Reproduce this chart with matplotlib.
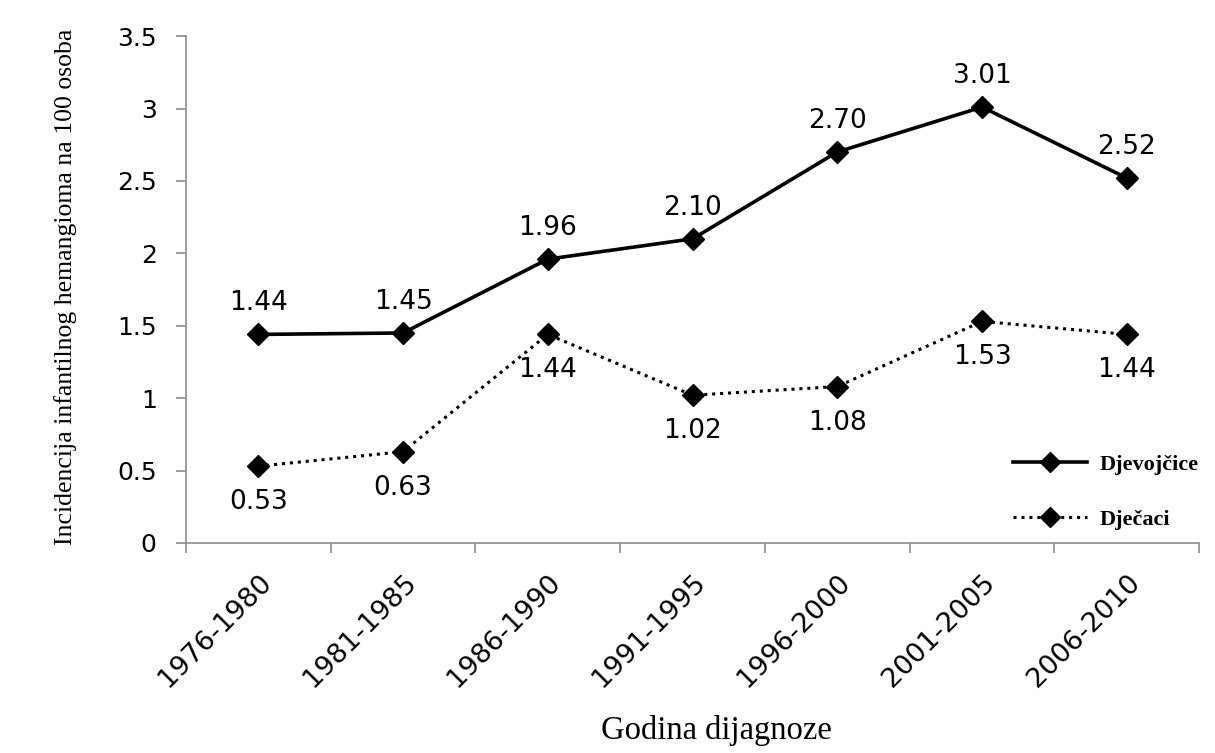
import numpy as np
import matplotlib.pyplot as plt

periods = ['1976-1980', '1981-1985', '1986-1990', '1991-1995',
           '1996-2000', '2001-2005', '2006-2010']
djevojcice = [1.44, 1.45, 1.96, 2.10, 2.70, 3.01, 2.52]
djecaci = [0.53, 0.63, 1.44, 1.02, 1.08, 1.53, 1.44]

num_font = ['DejaVu Sans']
serif = ['Liberation Serif', 'DejaVu Serif']
axis_grey = '#8c8c8c'

fig = plt.figure(figsize=(12.15, 7.53), dpi=100)
ax = fig.add_axes([0.153, 0.279, 0.834, 0.673])

x = np.arange(len(periods))
ax.plot(x, djevojcice, color='black', lw=2.6, marker='D', ms=11.5,
        label='Djevojčice')
ax.plot(x, djecaci, color='black', lw=2.2, ls=(0, (1, 1.6)), marker='D',
        ms=11.5, label='Dječaci')

# value labels: girls above, boys below
for xi, v in zip(x, djevojcice):
    ax.annotate(f'{v:.2f}', (xi, v), xytext=(0, 17.5), textcoords='offset points',
                ha='center', va='baseline', fontsize=19, family=num_font)
for xi, v in zip(x, djecaci):
    ax.annotate(f'{v:.2f}', (xi, v), xytext=(0, -31), textcoords='offset points',
                ha='center', va='baseline', fontsize=19, family=num_font)

ax.set_xlim(-0.5, len(periods) - 0.5)
ax.set_ylim(0, 3.5)
ax.set_yticks(np.arange(0, 3.51, 0.5))
ax.set_yticklabels(['0', '0.5', '1', '1.5', '2', '2.5', '3', '3.5'],
                   family=num_font, fontsize=18)
ax.set_xticks(x)
ax.set_xticklabels(periods, rotation=45, ha='right', rotation_mode='anchor',
                   family=num_font, fontsize=19.5)
ax.set_xticks(np.arange(-0.5, len(periods)), minor=True)
ax.tick_params(axis='x', which='major', length=0, pad=19)
ax.tick_params(axis='x', which='minor', length=7, color=axis_grey, width=1.2)
ax.tick_params(axis='y', length=7, color=axis_grey, width=1.2, pad=14)

for s in ['top', 'right']:
    ax.spines[s].set_visible(False)
for s in ['left', 'bottom']:
    ax.spines[s].set_color(axis_grey)
    ax.spines[s].set_linewidth(1.2)

ax.set_ylabel('Incidencija infantilnog hemangioma na 100 osoba',
              family=serif, fontsize=18.5)
ax.yaxis.set_label_coords(-0.107, 0.505)
ax.set_xlabel('Godina dijagnoze', family=serif, fontsize=23.5)
ax.xaxis.set_label_coords(0.524, -0.34)

ax.legend(loc='center right', bbox_to_anchor=(1.0, 0.1), frameon=False,
          prop={'family': serif, 'weight': 'bold', 'size': 16},
          handlelength=3.3, labelspacing=1.55, handletextpad=0.6,
          borderpad=0, borderaxespad=0, markerscale=0.85)

fig.savefig('out.png', dpi=100, facecolor='white')
